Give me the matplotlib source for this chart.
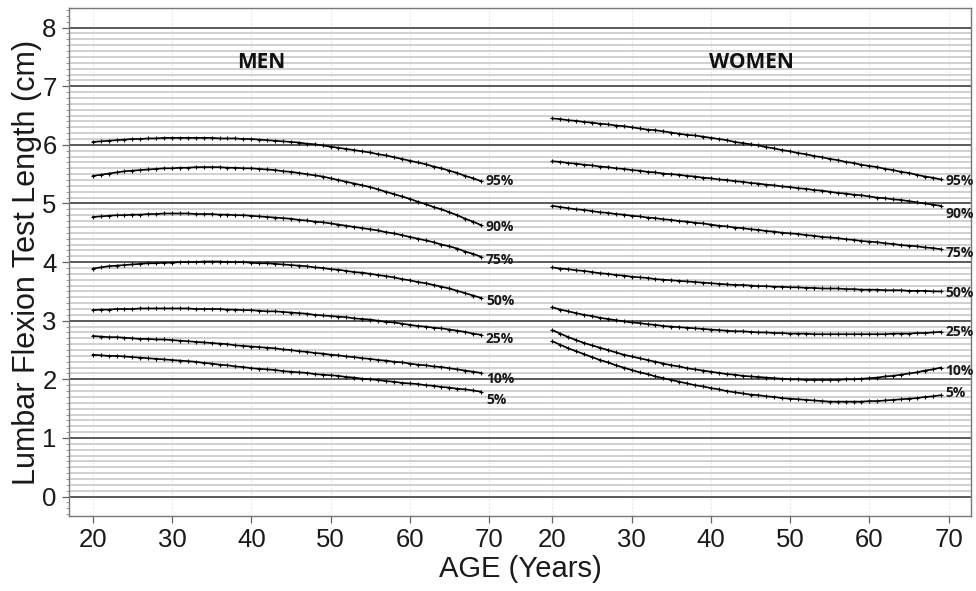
import numpy as np
import matplotlib
matplotlib.use('Agg')
import matplotlib.pyplot as plt
from matplotlib.ticker import MultipleLocator

# ages 20..69, one point per year
ages = list(range(20, 70))
pct_labels = ['95%', '90%', '75%', '50%', '25%', '10%', '5%']

men_p95 = [6.05, 6.06, 6.07, 6.08, 6.09, 6.10, 6.10, 6.11, 6.11, 6.12,
           6.12, 6.12, 6.12, 6.12, 6.12, 6.12, 6.11, 6.11, 6.11, 6.10,
           6.10, 6.09, 6.08, 6.07, 6.06, 6.05, 6.04, 6.02, 6.01, 5.99,
           5.97, 5.95, 5.93, 5.91, 5.89, 5.87, 5.84, 5.82, 5.79, 5.76,
           5.73, 5.70, 5.67, 5.63, 5.60, 5.56, 5.52, 5.47, 5.43, 5.38]
men_p90 = [5.47, 5.49, 5.51, 5.53, 5.55, 5.56, 5.57, 5.58, 5.59, 5.60,
           5.60, 5.61, 5.61, 5.62, 5.62, 5.62, 5.62, 5.61, 5.61, 5.60,
           5.60, 5.59, 5.58, 5.57, 5.55, 5.54, 5.52, 5.50, 5.48, 5.46,
           5.43, 5.40, 5.37, 5.34, 5.31, 5.28, 5.24, 5.20, 5.16, 5.12,
           5.08, 5.03, 4.99, 4.94, 4.90, 4.85, 4.80, 4.74, 4.69, 4.63]
men_p75 = [4.77, 4.78, 4.79, 4.80, 4.80, 4.81, 4.81, 4.82, 4.82, 4.83,
           4.83, 4.83, 4.83, 4.82, 4.82, 4.82, 4.81, 4.81, 4.80, 4.80,
           4.79, 4.78, 4.77, 4.76, 4.75, 4.74, 4.72, 4.71, 4.69, 4.68,
           4.66, 4.64, 4.62, 4.60, 4.58, 4.56, 4.54, 4.51, 4.49, 4.46,
           4.43, 4.40, 4.37, 4.34, 4.30, 4.27, 4.23, 4.18, 4.14, 4.09]
men_p50 = [3.89, 3.91, 3.93, 3.94, 3.95, 3.96, 3.97, 3.98, 3.98, 3.99,
           3.99, 4.00, 4.00, 4.00, 4.01, 4.01, 4.01, 4.00, 4.00, 4.00,
           3.99, 3.98, 3.98, 3.97, 3.96, 3.95, 3.94, 3.93, 3.91, 3.90,
           3.88, 3.87, 3.85, 3.83, 3.82, 3.80, 3.78, 3.76, 3.74, 3.71,
           3.69, 3.66, 3.64, 3.61, 3.58, 3.55, 3.51, 3.47, 3.43, 3.39]
men_p25 = [3.18, 3.19, 3.19, 3.20, 3.20, 3.20, 3.21, 3.21, 3.21, 3.21,
           3.21, 3.21, 3.21, 3.20, 3.20, 3.20, 3.20, 3.19, 3.19, 3.18,
           3.18, 3.17, 3.16, 3.16, 3.15, 3.14, 3.13, 3.12, 3.10, 3.09,
           3.08, 3.07, 3.06, 3.04, 3.03, 3.02, 3.00, 2.98, 2.97, 2.95,
           2.93, 2.91, 2.90, 2.88, 2.87, 2.85, 2.83, 2.81, 2.78, 2.76]
men_p10 = [2.74, 2.73, 2.72, 2.72, 2.71, 2.70, 2.69, 2.69, 2.68, 2.68,
           2.67, 2.66, 2.65, 2.64, 2.63, 2.62, 2.61, 2.60, 2.58, 2.57,
           2.56, 2.55, 2.54, 2.53, 2.51, 2.50, 2.48, 2.47, 2.45, 2.44,
           2.42, 2.41, 2.39, 2.38, 2.36, 2.35, 2.33, 2.32, 2.30, 2.29,
           2.27, 2.25, 2.24, 2.22, 2.21, 2.19, 2.17, 2.15, 2.13, 2.11]
men_p05 = [2.42, 2.41, 2.40, 2.40, 2.39, 2.38, 2.37, 2.36, 2.35, 2.34,
           2.33, 2.32, 2.31, 2.30, 2.28, 2.27, 2.25, 2.24, 2.22, 2.21,
           2.19, 2.18, 2.17, 2.16, 2.14, 2.13, 2.12, 2.11, 2.09, 2.08,
           2.07, 2.06, 2.04, 2.03, 2.01, 2.00, 1.99, 1.97, 1.96, 1.94,
           1.93, 1.92, 1.90, 1.89, 1.87, 1.86, 1.84, 1.83, 1.81, 1.79]

women_p95 = [6.45, 6.44, 6.42, 6.41, 6.39, 6.38, 6.36, 6.35, 6.33, 6.32,
             6.30, 6.28, 6.26, 6.25, 6.23, 6.21, 6.19, 6.17, 6.16, 6.14,
             6.12, 6.10, 6.08, 6.05, 6.03, 6.01, 5.99, 5.96, 5.94, 5.91,
             5.89, 5.86, 5.84, 5.81, 5.79, 5.76, 5.74, 5.71, 5.69, 5.66,
             5.64, 5.62, 5.59, 5.57, 5.54, 5.52, 5.49, 5.46, 5.44, 5.41]
women_p90 = [5.72, 5.71, 5.69, 5.68, 5.66, 5.65, 5.63, 5.62, 5.60, 5.59,
             5.57, 5.56, 5.54, 5.53, 5.51, 5.50, 5.49, 5.47, 5.46, 5.44,
             5.43, 5.41, 5.40, 5.38, 5.37, 5.35, 5.34, 5.32, 5.31, 5.29,
             5.28, 5.26, 5.25, 5.23, 5.22, 5.20, 5.18, 5.17, 5.15, 5.14,
             5.12, 5.10, 5.09, 5.07, 5.06, 5.04, 5.02, 5.00, 4.98, 4.96]
women_p75 = [4.96, 4.94, 4.92, 4.90, 4.89, 4.87, 4.85, 4.84, 4.82, 4.81,
             4.79, 4.78, 4.76, 4.75, 4.73, 4.72, 4.70, 4.69, 4.67, 4.66,
             4.64, 4.62, 4.61, 4.59, 4.58, 4.56, 4.55, 4.53, 4.52, 4.50,
             4.49, 4.48, 4.46, 4.45, 4.43, 4.42, 4.41, 4.39, 4.38, 4.36,
             4.35, 4.34, 4.32, 4.31, 4.29, 4.28, 4.27, 4.25, 4.24, 4.22]
women_p50 = [3.91, 3.89, 3.88, 3.86, 3.85, 3.83, 3.81, 3.80, 3.78, 3.77,
             3.75, 3.74, 3.73, 3.71, 3.70, 3.69, 3.68, 3.67, 3.66, 3.65,
             3.64, 3.63, 3.62, 3.61, 3.61, 3.60, 3.59, 3.59, 3.58, 3.58,
             3.57, 3.57, 3.56, 3.56, 3.55, 3.55, 3.55, 3.54, 3.54, 3.53,
             3.53, 3.53, 3.52, 3.52, 3.52, 3.51, 3.51, 3.51, 3.50, 3.50]
women_p25 = [3.23, 3.19, 3.16, 3.13, 3.10, 3.08, 3.05, 3.03, 3.01, 2.99,
             2.97, 2.96, 2.94, 2.93, 2.91, 2.90, 2.89, 2.88, 2.87, 2.86,
             2.85, 2.84, 2.83, 2.82, 2.82, 2.81, 2.80, 2.80, 2.79, 2.79,
             2.78, 2.78, 2.78, 2.77, 2.77, 2.77, 2.77, 2.77, 2.77, 2.77,
             2.77, 2.77, 2.77, 2.78, 2.78, 2.78, 2.79, 2.79, 2.80, 2.81]
women_p10 = [2.84, 2.78, 2.72, 2.67, 2.62, 2.58, 2.54, 2.50, 2.46, 2.42,
             2.39, 2.36, 2.33, 2.30, 2.27, 2.24, 2.22, 2.19, 2.17, 2.15,
             2.13, 2.11, 2.09, 2.08, 2.06, 2.05, 2.04, 2.03, 2.02, 2.01,
             2.00, 2.00, 1.99, 1.99, 1.99, 1.99, 1.99, 2.00, 2.00, 2.01,
             2.02, 2.03, 2.05, 2.06, 2.08, 2.10, 2.12, 2.15, 2.17, 2.20]
women_p05 = [2.65, 2.59, 2.53, 2.48, 2.43, 2.38, 2.33, 2.29, 2.24, 2.20,
             2.16, 2.12, 2.09, 2.05, 2.02, 1.99, 1.96, 1.93, 1.90, 1.88,
             1.85, 1.83, 1.80, 1.78, 1.76, 1.74, 1.73, 1.71, 1.70, 1.68,
             1.67, 1.66, 1.65, 1.64, 1.63, 1.62, 1.62, 1.62, 1.62, 1.62,
             1.63, 1.63, 1.64, 1.65, 1.66, 1.67, 1.68, 1.70, 1.71, 1.73]

x_ticks = [20, 30, 40, 50, 60, 70]

men_curves = [men_p95, men_p90, men_p75, men_p50, men_p25, men_p10, men_p05]
women_curves = [women_p95, women_p90, women_p75, women_p50, women_p25, women_p10, women_p05]

# women panel drawn on the same axes, shifted right
SHIFT = 58
# downward nudge of the end labels, in pixels
men_lab_dy = [0, 2, 3, 3, 4, 6, 8]
women_lab_dy = [2, 8, 4, 2, 0, 3, -2]

fig = plt.figure(figsize=(9.76, 5.91), dpi=100)
ax = fig.add_axes([0.0707, 0.127, 0.924, 0.859])
ax.set_xlim(17, 130.8)
ax.set_ylim(-0.33, 8.33)

# background grid: light every 0.1, dark at integers, faint verticals at ticks
for yv in np.round(np.arange(0, 8.01, 0.1), 1):
    if abs(yv - round(yv)) < 1e-6:
        continue
    ax.axhline(yv, color='#c4c4c4', lw=1.1, zorder=1)
for yv in range(0, 9):
    ax.axhline(yv, color='#5a5a5a', lw=1.4, zorder=1.5)
all_ticks = x_ticks + [t + SHIFT for t in x_ticks]
for xv in all_ticks:
    ax.axvline(xv, color='#ececec', lw=0.9, ls=(0, (2, 1)), zorder=0.5)

ages_a = np.array(ages)
pfont = dict(family='Open Sans', weight='bold', size=10)
for curves, shift, dys in [(men_curves, 0, men_lab_dy), (women_curves, SHIFT, women_lab_dy)]:
    for vals, lab, dy in zip(curves, pct_labels, dys):
        ax.plot(ages_a + shift, vals, color='black', lw=1.2, marker='+', ms=3.2,
                mew=0.8, zorder=3)
        ax.annotate(lab, (ages_a[-1] + shift, vals[-1]), xytext=(3.5, -dy * 0.72),
                    textcoords='offset points', ha='left', va='center',
                    color='#1a1a1a', zorder=4, **pfont)

ax.text(41.2, 7.41, 'MEN', ha='center', va='center', family='Open Sans',
        weight='bold', size=15, color='#111111')
ax.text(103.1, 7.41, 'WOMEN', ha='center', va='center', family='Open Sans',
        weight='bold', size=15, color='#111111')

ax.set_xticks(all_ticks)
ax.set_xticklabels([str(t) for t in x_ticks] * 2)
ax.set_yticks(range(0, 9))
ax.yaxis.set_minor_locator(MultipleLocator(0.1))
tfont = 'Liberation Sans'
for lbl in ax.get_xticklabels() + ax.get_yticklabels():
    lbl.set_family(tfont)
    lbl.set_fontsize(18.5)
    lbl.set_color('#1a1a1a')
ax.tick_params(axis='both', which='major', direction='out', length=5,
               color='#666666', width=0.9, pad=4)
ax.tick_params(axis='y', which='minor', direction='out', length=2,
               color='#888888', width=0.6)

for s in ax.spines.values():
    s.set_color('#777777')
    s.set_linewidth(1.0)

ax.set_xlabel('AGE (Years)', family=tfont, fontsize=21, color='#1a1a1a', labelpad=2)
ax.set_ylabel('Lumbar Flexion Test Length (cm)', family=tfont, fontsize=22,
              color='#1a1a1a', labelpad=0)

fig.savefig('out.png', dpi=100)
